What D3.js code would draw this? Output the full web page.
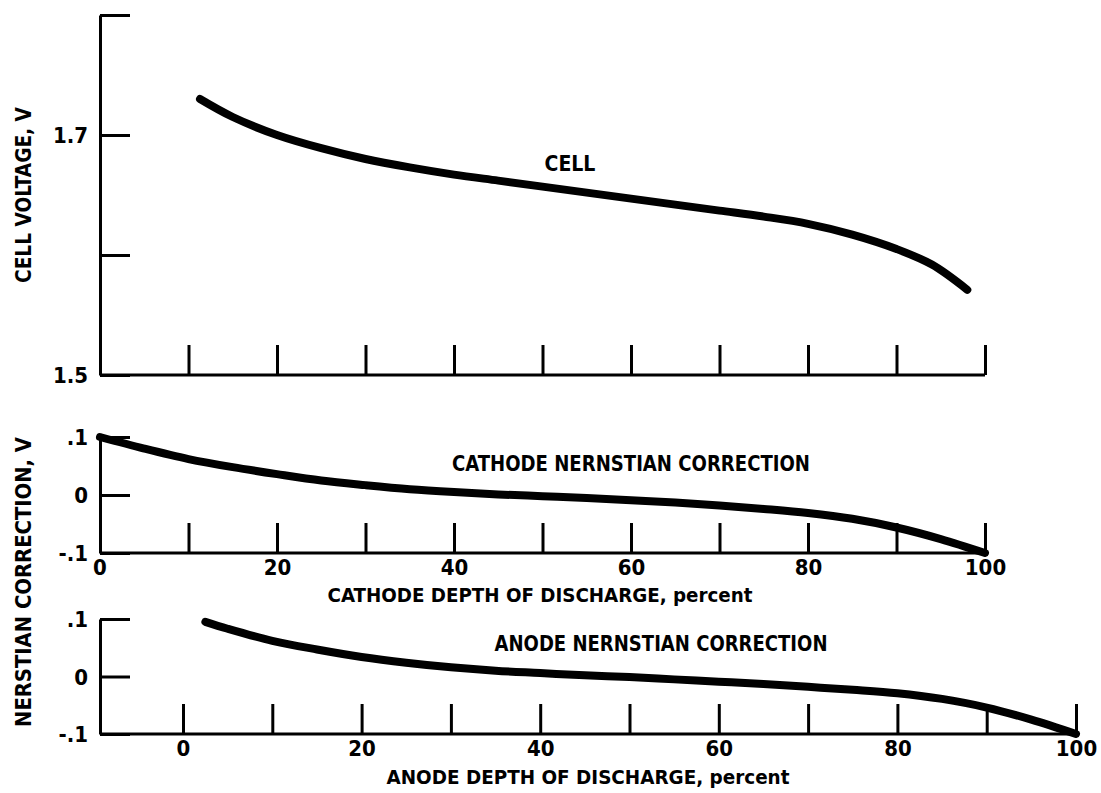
<!DOCTYPE html>
<html>
<head>
<meta charset="utf-8">
<script src="https://cdn.jsdelivr.net/npm/d3@7"></script>
<style>
  body { margin: 0; background: #fff; }
  text { font-family: "Liberation Sans Narrow", "DejaVu Sans Condensed", "Roboto", sans-serif; font-weight: bold; fill: #000; }
  .axis path, .axis line { stroke: #000; stroke-width: 3; }
  .curve { fill: none; stroke: #000; stroke-width: 8; stroke-linecap: round; stroke-linejoin: round; }
</style>
</head>
<body>
<div id="chart"></div>
<script>
const width = 1101,
      height = 793;

// cell voltage vs cathode depth of discharge
const cellPct  = [11.3, 15, 20, 25, 30, 35, 40, 45, 50, 55, 60, 65, 70, 75, 80, 85, 90, 94, 98];
const cellVolt = [1.730, 1.715, 1.700, 1.689, 1.680, 1.673, 1.667, 1.662, 1.657, 1.652, 1.647, 1.642, 1.637, 1.632, 1.626, 1.617, 1.605, 1.592, 1.571];

// cathode nernstian correction
const cathodePct  = [0, 5, 10, 15, 20, 25, 30, 35, 40, 45, 50, 55, 60, 65, 70, 75, 80, 85, 90, 95, 100];
const cathodeCorr = [0.100, 0.080, 0.062, 0.048, 0.036, 0.025, 0.017, 0.010, 0.005, 0.001, -0.002, -0.005, -0.009, -0.013, -0.018, -0.024, -0.031, -0.041, -0.056, -0.076, -0.100];

// anode nernstian correction
const anodePct  = [2.5, 5, 10, 15, 20, 25, 30, 35, 40, 45, 50, 55, 60, 65, 70, 75, 80, 85, 90, 95, 100];
const anodeCorr = [0.095, 0.083, 0.062, 0.047, 0.034, 0.024, 0.016, 0.010, 0.006, 0.002, -0.001, -0.005, -0.009, -0.013, -0.018, -0.023, -0.029, -0.039, -0.054, -0.075, -0.100];

// tick values / labels
const pctTicks = [10, 20, 30, 40, 50, 60, 70, 80, 90, 100];
const anodeTicks = [0, 10, 20, 30, 40, 50, 60, 70, 80, 90, 100];
const pctLabels = [0, 20, 40, 60, 80, 100];
const voltTicks = [1.5, 1.6, 1.7, 1.8];
const voltLabels = { 1.5: '1.5', 1.7: '1.7' };
const corrTicks = [-0.1, 0, 0.1];
const corrLabels = { '-0.1': '-.1', '0': '0', '0.1': '.1' };

const chart = d3.select('#chart')
                .append('svg')
                .attr('width', width)
                .attr('height', height);

chart.append('rect')
     .attr('width', width)
     .attr('height', height)
     .attr('fill', '#fff');

// scales
const xCathode = d3.scaleLinear().domain([0, 100]).range([100, 985]);
const xAnode = d3.scaleLinear().domain([0, 100]).range([183, 1076]);

const yCell = d3.scaleLinear().domain([1.5, 1.8]).range([375, 15]);
const yCathode = d3.scaleLinear().domain([-0.1, 0.1]).range([553, 437]);
const yAnode = d3.scaleLinear().domain([-0.1, 0.1]).range([734, 619]);

function yAxisGroup(scale, ticks, labels) {
  const axis = d3.axisLeft(scale)
                 .tickValues(ticks)
                 .tickSizeInner(-30)
                 .tickSizeOuter(0)
                 .tickPadding(12)
                 .tickFormat(function(d) { return labels[String(d)] || ''; });
  const g = chart.append('g')
                 .attr('class', 'axis')
                 .attr('transform', 'translate(100, 0)')
                 .call(axis);
  g.selectAll('text').style('font-size', '22px').attr('dy', '0.35em');
  return g;
}

function xAxisGroup(scale, ticks, labels, y, left, right) {
  const axis = d3.axisBottom(scale)
                 .tickValues(ticks)
                 .tickSizeInner(-30)
                 .tickSizeOuter(0)
                 .tickPadding(6)
                 .tickFormat(function(d) { return labels.indexOf(d) >= 0 ? d : ''; });
  const g = chart.append('g')
                 .attr('class', 'axis')
                 .attr('transform', 'translate(0,' + y + ')')
                 .call(axis);
  g.select('.domain').attr('d', 'M' + left + ',0H' + right);
  g.selectAll('text').style('font-size', '22px');
  return g;
}

// top panel: cell voltage
yAxisGroup(yCell, voltTicks, voltLabels);
xAxisGroup(xCathode, pctTicks, [], 375, 100, xCathode(100));

// middle panel: cathode
yAxisGroup(yCathode, corrTicks, corrLabels);
xAxisGroup(xCathode, pctTicks, pctLabels, 553, 100, xCathode(100));
chart.append('text')
     .attr('x', 100).attr('y', 559)
     .attr('dy', '0.71em')
     .attr('text-anchor', 'middle')
     .style('font-size', '22px')
     .text('0');

// bottom panel: anode
yAxisGroup(yAnode, corrTicks, corrLabels);
xAxisGroup(xAnode, anodeTicks, pctLabels, 734, 100, xAnode(100));

// curves
const lineCell = d3.line()
                   .x(function(d, i) { return xCathode(cellPct[i]); })
                   .y(function(d) { return yCell(d); })
                   .curve(d3.curveCatmullRom.alpha(0.5));
const lineCathode = d3.line()
                      .x(function(d, i) { return xCathode(cathodePct[i]); })
                      .y(function(d) { return yCathode(d); })
                      .curve(d3.curveCatmullRom.alpha(0.5));
const lineAnode = d3.line()
                    .x(function(d, i) { return xAnode(anodePct[i]); })
                    .y(function(d) { return yAnode(d); })
                    .curve(d3.curveCatmullRom.alpha(0.5));

chart.append('path').attr('class', 'curve').attr('d', lineCell(cellVolt));
chart.append('path').attr('class', 'curve').attr('d', lineCathode(cathodeCorr));
chart.append('path').attr('class', 'curve').attr('d', lineAnode(anodeCorr));

// labels
chart.append('text')
     .attr('x', 570).attr('y', 171)
     .attr('text-anchor', 'middle')
     .style('font-size', '21px')
     .text('CELL');

chart.append('text')
     .attr('x', 631).attr('y', 471)
     .attr('text-anchor', 'middle')
     .attr('textLength', 358)
     .attr('lengthAdjust', 'spacingAndGlyphs')
     .style('font-size', '21px')
     .text('CATHODE NERNSTIAN CORRECTION');

chart.append('text')
     .attr('x', 661).attr('y', 651)
     .attr('text-anchor', 'middle')
     .attr('textLength', 333)
     .attr('lengthAdjust', 'spacingAndGlyphs')
     .style('font-size', '21px')
     .text('ANODE NERNSTIAN CORRECTION');

chart.append('text')
     .attr('x', 540).attr('y', 602)
     .attr('text-anchor', 'middle')
     .attr('textLength', 425)
     .attr('lengthAdjust', 'spacingAndGlyphs')
     .style('font-size', '20px')
     .text('CATHODE DEPTH OF DISCHARGE, percent');

chart.append('text')
     .attr('x', 588).attr('y', 784)
     .attr('text-anchor', 'middle')
     .attr('textLength', 403)
     .attr('lengthAdjust', 'spacingAndGlyphs')
     .style('font-size', '20px')
     .text('ANODE DEPTH OF DISCHARGE, percent');

chart.append('text')
     .attr('transform', 'translate(31,195) rotate(-90)')
     .attr('text-anchor', 'middle')
     .attr('textLength', 176)
     .attr('lengthAdjust', 'spacingAndGlyphs')
     .style('font-size', '21px')
     .text('CELL VOLTAGE, V');

chart.append('text')
     .attr('transform', 'translate(31,582) rotate(-90)')
     .attr('text-anchor', 'middle')
     .attr('textLength', 290)
     .attr('lengthAdjust', 'spacingAndGlyphs')
     .style('font-size', '21px')
     .text('NERSTIAN CORRECTION, V');
</script>
</body>
</html>
